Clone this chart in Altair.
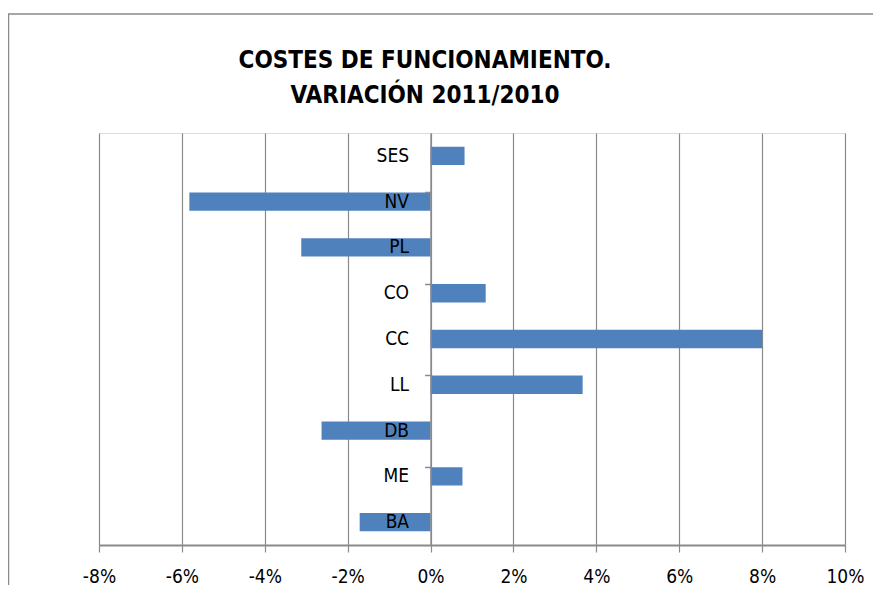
import altair as alt
import pandas as pd

categories = ["SES", "NV", "PL", "CO", "CC", "LL", "DB", "ME", "BA"]
values = [0.0082, -0.0582, -0.0312, 0.0133, 0.0800, 0.0367, -0.0263, 0.0077, -0.0171]
tick_values = [-0.08, -0.06, -0.04, -0.02, 0.0, 0.02, 0.04, 0.06, 0.08, 0.10]
title_lines = ["COSTES DE FUNCIONAMIENTO.", "VARIACIÓN 2011/2010"]

FONT = "Liberation Sans Narrow, DejaVu Sans Condensed, Carlito, Calibri, sans-serif"
GRAY = "#8a8a8a"

df = pd.DataFrame({"cat": categories, "val": values})

W, H = 746, 412
ZERO_OFFSET = -W * 8 / 18  # move category axis to x = 0

xscale = alt.Scale(domain=[-0.08, 0.10], nice=False, zero=False)
yscale = alt.Scale(domain=categories, paddingInner=0.6, paddingOuter=0.3)

xaxis = alt.Axis(
    values=tick_values,
    labelExpr="round(datum.value*100) + '%'",
    labelFlush=False,
    labelOverlap=False,
    title=None,
    grid=True,
    gridColor=GRAY,
    gridWidth=1.2,
    domainColor=GRAY,
    domainWidth=2,
    tickColor=GRAY,
    tickSize=7,
    tickWidth=1.2,
    labelPadding=15,
    labelFont=FONT,
    labelFontSize=19,
    labelColor="#000000",
)

bars = alt.Chart(df).mark_bar(color="#4f81bd").encode(
    x=alt.X("val:Q", scale=xscale, axis=xaxis),
    y=alt.Y(
        "cat:N",
        sort=categories,
        scale=yscale,
        axis=alt.Axis(
            orient="left",
            offset=ZERO_OFFSET,
            title=None,
            ticks=False,
            tickSize=0,
            labelPadding=22,
            labelFont=FONT,
            labelFontSize=19,
            labelColor="#000000",
            domainColor=GRAY,
            domainWidth=1.5,
            zindex=2,
        ),
    ),
)

ticks_layer = alt.Chart(df).mark_bar(opacity=0).encode(
    y=alt.Y(
        "cat:N",
        sort=categories,
        scale=yscale,
        axis=alt.Axis(
            orient="left",
            offset=ZERO_OFFSET,
            title=None,
            values=["NV", "CO", "LL", "ME"],
            labels=False,
            domain=False,
            ticks=True,
            tickSize=6,
            tickColor=GRAY,
            tickWidth=1.5,
            bandPosition=0,
            zindex=2,
        ),
    ),
)

frame = alt.Chart(pd.DataFrame({"a": [0]})).mark_rect(
    filled=False, stroke=GRAY, strokeWidth=1.5
).encode(
    x=alt.value(-90.5), x2=alt.value(820), y=alt.value(-119), y2=alt.value(520)
)

chart = (
    alt.layer(frame, bars, ticks_layer)
    .resolve_axis(y="independent")
    .properties(
        width=W,
        height=H,
        autosize=alt.AutoSizeParams(type="none"),
        padding={"left": 91, "top": 125, "right": 28, "bottom": 40},
        title=alt.TitleParams(
            text=title_lines,
            font=FONT,
            fontSize=24,
            fontWeight="bold",
            color="#000000",
            anchor="middle",
            dx=-47,
            offset=0,
            dy=95,
            lineHeight=35,
        ),
    )
    .configure_view(stroke="transparent", strokeWidth=0)
    .configure(background="white")
)

chart.save("out.html", embed_options={"renderer": "svg", "actions": False})
